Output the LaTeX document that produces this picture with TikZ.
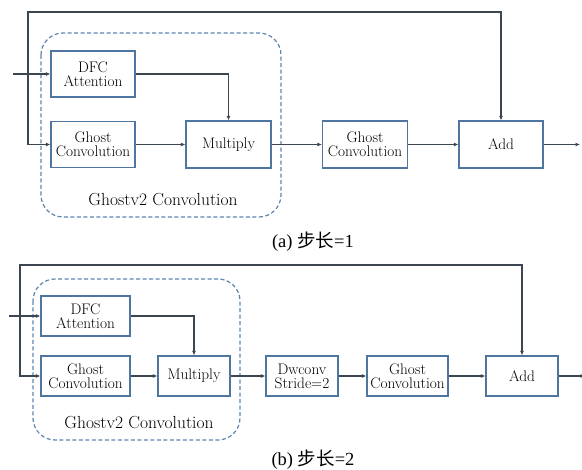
\documentclass[tikz,border=0pt]{standalone}
\usepackage{fontspec}
\usetikzlibrary{arrows.meta}
\newfontfamily\capfont{Liberation Serif}
\newfontfamily\cjk{Noto Sans CJK SC}
\definecolor{boxblue}{HTML}{4E76A0}
\definecolor{dashblue}{HTML}{5B86B0}
\definecolor{linegray}{HTML}{3C4650}
\tikzset{
  blk/.style={draw=boxblue, line width=1.2pt, fill=white, align=center, inner sep=1pt,
    text=black, font=\fontsize{15.3}{14.2}\selectfont},
  conn/.style={draw=linegray, line width=1.2pt, -{Latex[length=4.5pt,width=4pt]}},
  grp/.style={draw=dashblue, line width=1.2pt, dash pattern=on 4pt off 2.5pt, rounded corners=22pt},
  grplabel/.style={font=\fontsize{17.5}{17.5}\selectfont, text=black},
  captext/.style={font=\capfont\fontsize{18.5}{18.5}\selectfont, text=black, anchor=base, inner sep=0pt}
}
\begin{document}
\begin{tikzpicture}[x=1pt,y=-1pt]
\useasboundingbox (0,0) rectangle (582,470);
% ---------- (a) ----------
\draw[grp] (41,33) rectangle (281,217);
\node[blk, minimum width=84pt, minimum height=46pt] (dfcA) at (93,74) {DFC\\Attention};
\node[blk, minimum width=84pt, minimum height=46pt] (gcA) at (93,144.5) {Ghost\\Convolution};
\node[blk, minimum width=85pt, minimum height=47pt] (mulA) at (228.5,144.5) {Multiply};
\node[blk, minimum width=85pt, minimum height=47pt] (gc2A) at (365,144.5) {Ghost\\Convolution};
\node[blk, minimum width=84pt, minimum height=47pt] (addA) at (501,144.5) {Add};
\node[grplabel] (lblA) at (163,200) {Ghostv2 Convolution};
\coordinate (inA) at (13,74);
\coordinate (brA) at (28,74);
\coordinate (topA) at (28,12);
\coordinate (outA) at (580,144.5);
\draw[conn] (inA) -- (dfcA.west);
\draw[conn] (brA) |- (gcA.west);
\draw[conn] (brA) -- (topA) -| (addA.north);
\draw[conn] (dfcA.east) -| (mulA.north);
\draw[conn] (gcA) -- (mulA);
\draw[conn] (mulA) -- (gc2A);
\draw[conn] (gc2A) -- (addA);
\draw[conn] (addA.east) -- (outA);
\node[captext] (capA) at (313,248) {(a) {\cjk 步长}=1};
% ---------- (b) ----------
\draw[grp] (33,279) rectangle (240,440);
\node[blk, minimum width=89pt, minimum height=40pt] (dfcB) at (85.5,316) {DFC\\Attention};
\node[blk, minimum width=89pt, minimum height=40pt] (gcB) at (85.5,376) {Ghost\\Convolution};
\node[blk, minimum width=72pt, minimum height=40pt] (mulB) at (194,376) {Multiply};
\node[blk, minimum width=72pt, minimum height=40pt] (dwB) at (302,376) {Dwconv\\Stride=2};
\node[blk, minimum width=81pt, minimum height=40pt] (gc2B) at (407.5,376) {Ghost\\Convolution};
\node[blk, minimum width=72pt, minimum height=40pt] (addB) at (522,376) {Add};
\node[grplabel] (lblB) at (139,423) {Ghostv2 Convolution};
\coordinate (inB) at (9,316);
\coordinate (brB) at (20,316);
\coordinate (topB) at (20,265);
\coordinate (outB) at (585,376);
\draw[conn] (inB) -- (dfcB.west);
\draw[conn] (brB) |- (gcB.west);
\draw[conn] (brB) -- (topB) -| (addB.north);
\draw[conn] (dfcB.east) -| (mulB.north);
\draw[conn] (gcB) -- (mulB);
\draw[conn] (mulB) -- (dwB);
\draw[conn] (dwB) -- (gc2B);
\draw[conn] (gc2B) -- (addB);
\draw[conn] (addB.east) -- (outB);
\node[captext] (capB) at (313,466) {(b) {\cjk 步长}=2};
\end{tikzpicture}
\end{document}
